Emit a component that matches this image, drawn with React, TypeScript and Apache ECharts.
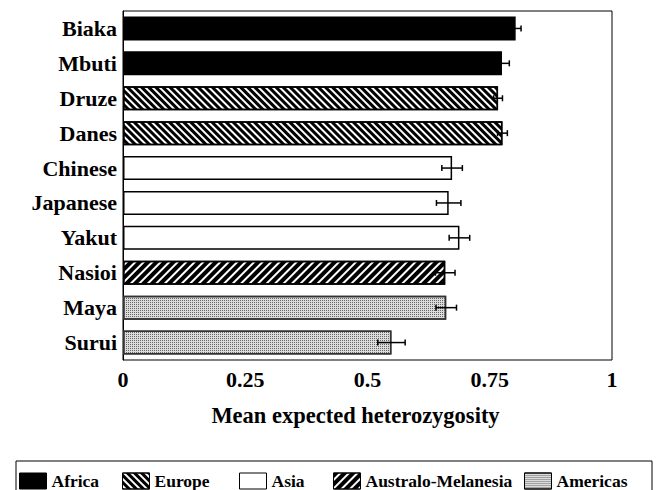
import React, { useEffect, useRef } from "react";
import * as echarts from "echarts";

const categories = ["Biaka", "Mbuti", "Druze", "Danes", "Chinese", "Japanese", "Yakut", "Nasioi", "Maya", "Surui"];
const regionOf = ["Africa", "Africa", "Europe", "Europe", "Asia", "Asia", "Asia", "Australo-Melanesia", "Americas", "Americas"];
const values = [0.803, 0.775, 0.767, 0.776, 0.673, 0.666, 0.688, 0.659, 0.661, 0.549];
const errors = [0.011, 0.015, 0.009, 0.010, 0.021, 0.025, 0.021, 0.020, 0.021, 0.028];
const regions = ["Africa", "Europe", "Asia", "Australo-Melanesia", "Americas"];
const xTicks = [0, 0.25, 0.5, 0.75, 1];
const legendX = [19, 122, 239, 333, 524];

const FONT = "Liberation Serif";

const regionStyle: Record<string, any> = {
  Africa: { color: "#000", borderColor: "#000", borderWidth: 1.5 },
  Europe: {
    color: "#fff",
    borderColor: "#000",
    borderWidth: 1.5,
    decal: { symbol: "rect", symbolSize: 1, dashArrayX: [1, 0], dashArrayY: [2.4, 2], rotation: Math.PI / 4, color: "#000" },
  },
  Asia: { color: "#fff", borderColor: "#000", borderWidth: 1.5 },
  "Australo-Melanesia": {
    color: "#fff",
    borderColor: "#000",
    borderWidth: 1.5,
    decal: { symbol: "rect", symbolSize: 1, dashArrayX: [1, 0], dashArrayY: [3.2, 1.8], rotation: -Math.PI / 4, color: "#000" },
  },
  Americas: {
    color: "#dcdcdc",
    borderColor: "#333",
    borderWidth: 1.5,
    decal: { symbol: "rect", symbolSize: 1, dashArrayX: [1, 1], dashArrayY: [1, 1], rotation: 0, color: "#666" },
  },
};

export default function App() {
  const ref = useRef<HTMLDivElement>(null);
  useEffect(() => {
    if (!ref.current) return;
    const chart = echarts.init(ref.current, null, { renderer: "svg" });
    const barSeries = regions.map((r) => ({
      name: r,
      type: "bar",
      barWidth: 24,
      barGap: "-100%",
      itemStyle: regionStyle[r],
      data: categories.map((c, i) => (regionOf[i] === r ? values[i] : "-")),
      z: 2,
    }));
    const errSeries = {
      type: "custom",
      name: "err",
      z: 5,
      data: categories.map((c, i) => [i, values[i], errors[i]]),
      encode: { y: 0, x: [1, 2] },
      renderItem: (params: any, api: any) => {
        const idx = api.value(0);
        const v = api.value(1);
        const e = api.value(2);
        const lo = api.coord([v - e, idx]);
        const hi = api.coord([v + e, idx]);
        const y = lo[1];
        const h = 3;
        const st = { stroke: "#000", lineWidth: 1.5 };
        return {
          type: "group",
          children: [
            { type: "line", shape: { x1: lo[0], y1: y, x2: hi[0], y2: y }, style: st },
            { type: "line", shape: { x1: lo[0], y1: y - h, x2: lo[0], y2: y + h }, style: st },
            { type: "line", shape: { x1: hi[0], y1: y - h, x2: hi[0], y2: y + h }, style: st },
          ],
        };
      },
    };
    const legends = regions.map((r, i) => ({
      data: [r],
      left: legendX[i],
      top: 472,
      padding: 0,
      icon: "rect",
      itemWidth: 27,
      itemHeight: 16,
      selectedMode: false,
      itemStyle: { borderColor: "#000", borderWidth: 1 },
      textStyle: { fontFamily: FONT, fontWeight: "bold", fontSize: 17.5, color: "#000" },
    }));
    chart.setOption({
      animation: false,
      backgroundColor: "#fff",
      grid: { left: 123, right: 49, top: 11, bottom: 130, show: true, borderColor: "#000", borderWidth: 1 },
      legend: legends,
      xAxis: {
        type: "value",
        min: 0,
        max: 1,
        interval: 0.25,
        splitLine: { show: false },
        axisLine: { lineStyle: { color: "#000", width: 1 } },
        axisTick: { inside: true, length: 5, lineStyle: { color: "#000" } },
        axisLabel: {
          margin: 8,
          fontFamily: FONT,
          fontWeight: "bold",
          fontSize: 22,
          color: "#000",
          formatter: (v: number) => (xTicks.includes(v) ? String(v) : ""),
        },
        name: "Mean expected heterozygosity",
        nameLocation: "middle",
        nameGap: 44,
        nameTextStyle: { fontFamily: FONT, fontWeight: "bold", fontSize: 22.5, color: "#000", padding: [0, 24, 0, 0] },
      },
      yAxis: {
        type: "category",
        inverse: true,
        data: categories,
        axisLine: { lineStyle: { color: "#000", width: 1 } },
        axisTick: { alignWithLabel: true, length: 4, lineStyle: { color: "#000" } },
        axisLabel: { margin: 6, fontFamily: FONT, fontWeight: "bold", fontSize: 22, color: "#000" },
      },
      series: [...barSeries, errSeries],
      graphic: [
        {
          type: "rect",
          shape: { x: 16, y: 461, width: 636, height: 40 },
          style: { fill: "none", stroke: "#000", lineWidth: 1 },
          z: 0,
        },
      ],
    });
    return () => chart.dispose();
  }, []);
  return <div ref={ref} style={{ width: 661, height: 490, position: "absolute", left: 0, top: 0 }} />;
}
